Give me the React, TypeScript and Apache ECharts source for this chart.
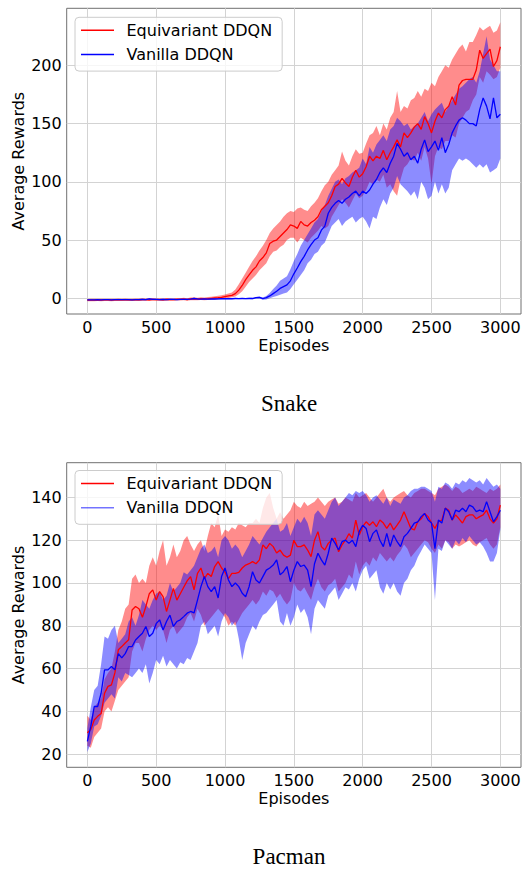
import React, { useEffect, useRef } from 'react';
import * as echarts from 'echarts';

const EPISODES = [0,25,50,75,100,125,150,175,200,225,250,275,300,325,350,375,400,425,450,475,500,525,550,575,600,625,650,675,700,725,750,775,800,825,850,875,900,925,950,975,1000,1025,1050,1075,1100,1125,1150,1175,1200,1225,1250,1275,1300,1325,1350,1375,1400,1425,1450,1475,1500,1525,1550,1575,1600,1625,1650,1675,1700,1725,1750,1775,1800,1825,1850,1875,1900,1925,1950,1975,2000,2025,2050,2075,2100,2125,2150,2175,2200,2225,2250,2275,2300,2325,2350,2375,2400,2425,2450,2475,2500,2525,2550,2575,2600,2625,2650,2675,2700,2725,2750,2775,2800,2825,2850,2875,2900,2925,2950,2975,3000];

const X_TICKS = [0, 500, 1000, 1500, 2000, 2500, 3000];
const SNAKE_Y_TICKS = [0, 50, 100, 150, 200];
const PACMAN_Y_TICKS = [20, 40, 60, 80, 100, 120, 140];

// ---------- Snake ----------
const SNAKE_EQ_MEAN = [
  -1.6,-1.5,-1.5,-1.4,-1.5,-1.4,-1.3,-1.5,-1.4,-1.3,-1.4,-1.2,-1.3,-1.4,-1.2,-1.3,-1.1,-1.2,-1.3,-1.0,
  -1.2,-1.1,-1.3,-1.0,-1.1,-1.2,-0.9,-1.0,-0.8,-1.1,-0.6,-0.5,-0.7,-0.4,-0.5,-0.3,0.0,0.3,0.5,0.8,
  1.5,2.0,2.5,4,7,11,16,20,24,27,32,35,39,47,49,50,53,56,59,63,
  62,60,66,63,62,65,67,70,76,79,82,88,96,98,103,99,96,104,110,104,
  107,113,122,118,122,120,127,119,125,130,136,130,142,138,142,147,150,145,156,150,
  142,152,159,155,162,165,173,166,183,187,188,188,188,196,213,206,210,214,199,204,216
];
const SNAKE_EQ_UP = [
  -0.6,-0.5,-0.4,-0.4,-0.5,-0.3,-0.3,-0.5,-0.3,-0.2,-0.4,-0.1,-0.3,-0.3,-0.1,-0.2,0.0,-0.1,-0.2,0.1,
  -0.1,0.0,-0.2,0.2,0.0,-0.1,0.3,0.1,0.5,0.0,0.6,0.8,0.4,0.9,0.7,1.0,1.4,1.8,2.2,2.6,
  3.2,4,5,7.5,12,17,22,27,32,36,41,45,50,56,60,63,66,70,73,75,
  74,77,78,76,75,79,82,86,92,97,100,106,110,114,126,118,114,122,128,124,
  125,133,140,142,148,140,150,145,155,160,178,160,165,163,170,172,178,173,180,178,
  185,182,190,195,200,198,205,210,215,218,212,220,220,226,233,230,232,234,228,230,237
];
const SNAKE_EQ_LOW = [
  -2.6,-2.5,-2.5,-2.4,-2.5,-2.4,-2.3,-2.5,-2.4,-2.3,-2.4,-2.2,-2.3,-2.4,-2.2,-2.3,-2.1,-2.2,-2.3,-2.0,
  -2.2,-2.1,-2.3,-2.0,-2.1,-2.2,-1.9,-2.0,-1.8,-2.1,-1.7,-1.6,-1.8,-1.5,-1.6,-1.4,-1.2,-1.0,-0.8,-0.5,
  0,0.3,0.8,1.5,3.5,6,10,14,17,20,24,27,30,36,40,41,44,46,50,52,
  52,48,52,50,48,52,55,58,62,60,62,70,75,80,85,82,78,84,90,86,
  88,93,100,98,102,100,106,95,98,92,88,102,112,115,120,118,125,118,130,120,
  98,122,130,128,135,135,140,138,150,155,160,162,170,175,190,185,195,192,188,190,198
];
const SNAKE_VA_MEAN = [
  -1.4,-1.3,-1.3,-1.2,-1.3,-1.2,-1.2,-1.3,-1.1,-1.2,-1.2,-1.1,-1.2,-1.3,-1.1,-1.2,-1.0,-1.2,-0.6,-0.9,
  -1.0,-1.1,-1.0,-1.1,-0.9,-1.0,-1.1,-0.9,-1.0,-0.9,-0.8,-0.2,-0.6,-0.7,-0.6,-0.7,-0.5,-0.6,-0.5,-0.4,
  -0.4,-0.3,-0.4,-0.2,-0.3,-0.2,-0.3,-0.1,-0.2,0.5,0.8,-0.3,0.5,2,4,6,8.5,10,11.5,15,
  21,26,31.5,36,41.5,46,50,52,58.5,62,73,78,81.5,84,81.5,85,87,90,92,88,
  92,90,93,98,102,108,112,108,116,122,133,128,122,125,119,122,116,128,136,126,
  130,135,127,138,125,132,142,148,153,155,153,150,150,148,162,172,165,154,172,155,158
];
const SNAKE_VA_UP = [
  -0.9,-0.8,-0.8,-0.7,-0.8,-0.7,-0.7,-0.8,-0.6,-0.7,-0.7,-0.6,-0.7,-0.8,-0.6,-0.7,-0.5,-0.7,0.0,-0.4,
  -0.5,-0.6,-0.5,-0.6,-0.4,-0.5,-0.6,-0.4,-0.5,-0.4,-0.3,0.4,-0.1,-0.2,-0.1,-0.2,0.0,-0.1,0.0,0.1,
  0.1,0.2,0.1,0.3,0.2,0.3,0.2,0.5,0.4,1.2,1.6,0.6,2,4.5,8,11,15,17,19,25,
  32,38,45,50,55,60,65,68,75,80,88,94,100,102,98,103,105,108,110,112,
  120,115,130,125,132,136,140,135,145,148,155,152,148,150,145,148,150,155,160,152,
  158,162,165,168,160,165,170,175,180,182,185,188,190,185,195,210,225,205,200,195,195
];
const SNAKE_VA_LOW = [
  -1.9,-1.8,-1.8,-1.7,-1.8,-1.7,-1.7,-1.8,-1.6,-1.7,-1.7,-1.6,-1.7,-1.8,-1.6,-1.7,-1.5,-1.7,-1.2,-1.4,
  -1.5,-1.6,-1.5,-1.6,-1.4,-1.5,-1.6,-1.4,-1.5,-1.4,-1.3,-0.8,-1.1,-1.2,-1.1,-1.2,-1.0,-1.1,-1.0,-0.9,
  -0.9,-0.8,-0.9,-0.7,-0.8,-0.7,-0.8,-0.7,-0.8,-0.4,-0.2,-1.2,-1,0,1,2,3,4,5,8,
  12,16,20,24,30,33,38,40,45,48,55,62,65,68,62,66,68,70,65,68,
  70,66,60,70,68,78,85,80,90,95,105,98,95,92,88,92,85,100,95,85,
  88,100,90,98,90,95,110,115,120,118,120,118,115,112,115,112,115,108,110,112,120
];

// ---------- Pacman ----------
const PACMAN_EQ_MEAN = [
  30,31.5,36,37.7,39,48.5,51.7,52.4,58,68.8,70.3,72,73.5,87.4,89,88,84,89,95,96.8,
  92,96,93.6,86.7,92,97.5,92,95,98,101,103,96.8,104.5,107,102,104.5,103,107.7,110,107,
  105,102,104.5,104.5,105,107,108.4,109,110,109,110.8,117.8,116,118.5,117,114,115.4,113,112,113,
  120,117,117,117.8,115.4,112.3,120,124,117,115.4,118.5,120,121,114.6,117.8,120,123,121,129.4,122.4,
  126.3,128.6,127,128.6,126.3,129.4,128,125.5,128,124.8,127,129.4,133.3,129.4,125.5,124.8,128.6,130,132.5,131,
  128,125.5,128.6,129.4,135,134,129.4,131.8,130,128,131,131.8,131.8,130,131,131.8,134,130,128,130,136.4
];
const PACMAN_EQ_UP = [
  38,36,42,44,46,55,58,60,68,78,82,88,90,102,104,100,102,100,108,112,
  108,115,120,108,112,118,112,115,120,122,118,115,118,120,115,122,128,126,132,122,
  125,124,126,125,128,127,126,128,128,130,128,135,140,142,135,130,133,130,132,134,
  138,136,135,138,136,137,138,140,138,136,138,139,140,137,138,140,139,138,142,140,
  141,142,140,138,140,142,144,140,138,140,141,142,143,141,140,142,143,144,144,143,
  142,141,144,145,146,145,143,145,144,142,143,144,143,145,144,143,142,144,143,144,146
];
const PACMAN_EQ_LOW = [
  24,23,28,30,32,40,42,40,45,50,52,54,56,68,72,72,68,74,78,80,
  78,80,78,72,78,80,76,78,80,84,86,82,88,85,80,82,84,86,88,86,
  84,80,82,80,83,86,88,90,92,90,92,96,94,97,96,93,95,92,90,92,
  100,97,96,98,95,92,98,102,98,96,99,100,102,96,98,100,104,102,110,104,
  108,110,108,112,110,114,112,110,112,110,113,115,118,116,112,114,116,118,120,119,
  116,114,118,116,120,119,116,118,117,118,119,120,118,117,119,120,121,118,116,118,126
];
const PACMAN_VA_MEAN = [
  26,33,42.3,42.3,48.5,59.4,59.4,61,59.4,67,65,67,70.3,70.3,73.4,75,76.5,79.7,75,76.5,
  81,82.8,78,82,85,79.7,82,82.8,84.3,85.9,86.7,86,92,98.3,103,98.3,96,98.3,93,103,
  107,101.4,98.3,100,98.3,95.2,93.6,98.3,105.3,101.4,100,103,106,107,108.4,110.8,103.8,105.3,107.7,100.6,
  106,110,107.7,108.4,106,98.3,109,113.9,110.8,108.4,113.9,121,118.5,115.4,119.3,120,118.5,120,117,124,
  127,125.5,119.3,123.2,124.8,120,117,123.2,117,122.4,119.3,117,121.6,123.2,125.5,128,128.6,131,132.5,129.4,
  128,116,129.4,128,135,133.3,129.4,134,133.3,135,133.3,136.4,135.6,133.3,134,133.3,138,133.3,128.6,131,134
];
const PACMAN_VA_UP = [
  32,42,50,52,62,75,74,78,80,72,74,76,82,84,80,85,92,90,88,92,
  95,96,92,94,100,96,98,100,105,104,106,108,112,116,118,114,115,117,112,120,
  122,120,116,118,116,112,115,118,122,120,118,121,124,126,128,130,124,125,128,122,
  126,130,128,131,128,122,132,134,132,130,134,138,140,136,138,140,142,141,143,142,
  143,141,138,140,141,139,137,140,136,139,138,137,140,141,143,144,144,145,145,144,
  143,138,145,144,147,146,144,147,146,148,147,149,148,147,148,146,149,147,145,146,144
];
const PACMAN_VA_LOW = [
  21,25,33,34,38,44,46,48,46,56,54,58,57,56,58,60,58,62,53,58,
  64,62,66,61,64,62,60,63,62,65,64,68,72,80,82,76,78,80,75,82,
  86,84,80,82,74,64,72,76,80,78,82,85,86,88,90,92,82,80,86,80,
  84,90,86,88,84,76,88,92,90,88,94,96,98,92,95,98,97,100,96,102,
  106,108,102,104,106,98,95,100,97,100,96,94,100,102,106,108,112,115,118,116,
  114,92,116,115,120,118,116,120,118,121,119,122,120,118,119,117,114,110,110,114,125
];

const FONT = 'DejaVu Sans';
const RED = '#ff0000';
const BLUE = '#0000ff';
const RED_FILL = 'rgba(255,0,0,0.45)';
const BLUE_FILL = 'rgba(0,0,255,0.45)';

function band(id: string, gi: number, low: number[], up: number[], fill: string) {
  return {
    type: 'custom',
    id,
    xAxisIndex: gi,
    yAxisIndex: gi,
    silent: true,
    clip: true,
    z: 1,
    data: EPISODES.map((x, i) => [x, low[i], up[i]]),
    encode: { x: 0, y: [1, 2] },
    renderItem: (params: any, api: any) => {
      if (params.dataIndex !== 0) return null;
      const pts: number[][] = [];
      for (let i = 0; i < EPISODES.length; i++) pts.push(api.coord([EPISODES[i], up[i]]));
      for (let i = EPISODES.length - 1; i >= 0; i--) pts.push(api.coord([EPISODES[i], low[i]]));
      return { type: 'polygon', shape: { points: pts }, style: { fill } };
    },
  };
}

function line(name: string, gi: number, mean: number[], color: string) {
  return {
    type: 'line',
    name,
    xAxisIndex: gi,
    yAxisIndex: gi,
    silent: true,
    z: 3,
    symbol: 'none',
    showSymbol: false,
    data: EPISODES.map((x, i) => [x, mean[i]]),
    lineStyle: { color, width: 1.3 },
    itemStyle: { color },
  };
}

const axisText = { fontSize: 16, lineHeight: 16, fontFamily: FONT, color: '#000', formatter: (v: number) => String(v) };
const nameText = { fontSize: 16, lineHeight: 16, fontFamily: FONT, color: '#000' };
const splitLine = { show: true, lineStyle: { color: '#d3d3d3', width: 1 } };

function xAxis(gi: number) {
  return {
    type: 'value',
    gridIndex: gi,
    min: -150,
    max: 3150,
    splitNumber: 5,
    name: 'Episodes',
    nameLocation: 'middle',
    nameGap: 23,
    nameMoveOverlap: false,
    nameTextStyle: nameText,
    axisLine: { show: false },
    axisTick: { show: false, customValues: X_TICKS },
    axisLabel: { customValues: X_TICKS, margin: 5, ...axisText },
    splitLine,
  };
}

function yAxis(gi: number, min: number, max: number, ticks: number[], splitNumber: number) {
  return {
    type: 'value',
    gridIndex: gi,
    min,
    max,
    splitNumber,
    name: 'Average Rewards',
    nameLocation: 'middle',
    nameRotate: 90,
    nameGap: 40,
    nameMoveOverlap: false,
    nameTextStyle: nameText,
    axisLine: { show: false },
    axisTick: { show: false, customValues: ticks },
    axisLabel: { customValues: ticks, margin: 5, ...axisText },
    splitLine,
  };
}

function legend(top: number, vanillaColor: string) {
  return {
    left: 75,
    top,
    orient: 'vertical',
    selectedMode: false,
    itemWidth: 33,
    itemHeight: 1.5,
    itemGap: 8.3,
    padding: [5, 10, 8.5, 6],
    backgroundColor: 'rgba(255,255,255,0.8)',
    borderColor: '#cccccc',
    borderWidth: 1,
    borderRadius: 4,
    textStyle: { fontSize: 16, fontFamily: FONT, color: '#000', lineHeight: 16, padding: [0, 0, 0, 7.5] },
    data: [
      { name: 'Equivariant DDQN', icon: 'rect', itemStyle: { color: RED } },
      { name: 'Vanilla DDQN', icon: 'rect', itemStyle: { color: vanillaColor } },
    ],
  };
}

export default function App() {
  const ref = useRef<HTMLDivElement>(null);
  useEffect(() => {
    if (!ref.current) return;
    const chart = echarts.init(ref.current, null, { renderer: 'svg' });
    chart.setOption({
      animation: false,
      backgroundColor: '#ffffff',
      grid: [
        { left: 66.7, top: 8.3, width: 454.3, height: 305.7, show: true, borderColor: '#707070', borderWidth: 1, backgroundColor: 'transparent', containLabel: false, outerBoundsMode: 'none' },
        { left: 66.7, top: 462.7, width: 454.3, height: 304.6, show: true, borderColor: '#707070', borderWidth: 1, backgroundColor: 'transparent', containLabel: false, outerBoundsMode: 'none' },
      ],
      xAxis: [xAxis(0), xAxis(1)],
      yAxis: [
        yAxis(0, -13.5, 249, SNAKE_Y_TICKS, 5),
        yAxis(1, 13.9, 156.2, PACMAN_Y_TICKS, 7),
      ],
      legend: [legend(17.3, BLUE), legend(470.5, 'rgba(0,0,255,0.55)')],
      graphic: [
        { type: 'text', x: 289, y: 415, style: { text: 'Snake', fontSize: 23, fontFamily: 'Liberation Serif', fill: '#000', align: 'center', verticalAlign: 'bottom' } },
        { type: 'text', x: 289, y: 868, style: { text: 'Pacman', fontSize: 23, fontFamily: 'Liberation Serif', fill: '#000', align: 'center', verticalAlign: 'bottom' } },
      ],
      series: [
        band('snake-eq-band', 0, SNAKE_EQ_LOW, SNAKE_EQ_UP, RED_FILL),
        band('snake-va-band', 0, SNAKE_VA_LOW, SNAKE_VA_UP, BLUE_FILL),
        line('Equivariant DDQN', 0, SNAKE_EQ_MEAN, RED),
        line('Vanilla DDQN', 0, SNAKE_VA_MEAN, BLUE),
        band('pacman-eq-band', 1, PACMAN_EQ_LOW, PACMAN_EQ_UP, RED_FILL),
        band('pacman-va-band', 1, PACMAN_VA_LOW, PACMAN_VA_UP, BLUE_FILL),
        line('Equivariant DDQN', 1, PACMAN_EQ_MEAN, RED),
        line('Vanilla DDQN', 1, PACMAN_VA_MEAN, BLUE),
      ],
    });
    return () => chart.dispose();
  }, []);
  return <div ref={ref} style={{ position: 'absolute', left: 0, top: 0, width: 529, height: 869 }} />;
}
